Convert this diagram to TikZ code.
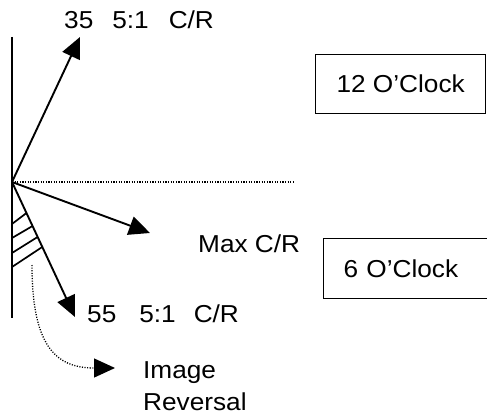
\documentclass[tikz,border=0pt]{standalone}
\usepackage{fontspec}
\setmainfont[FakeStretch=1.07]{Liberation Sans}
\usetikzlibrary{arrows.meta,calc}
\begin{document}
\begin{tikzpicture}[x=1pt,y=-1pt,
  font=\fontsize{24.5}{32}\selectfont,
  lbl/.style={inner sep=0pt,anchor=base west},
  clockbox/.style={draw,line width=1.3pt,inner sep=0pt,minimum height=59pt},
  vec/.style={line width=1.9pt,-{Triangle[length=21pt,width=19pt]}},
  hatch/.style={line width=1.7pt},
  dotline/.style={line width=1.3pt,dash pattern=on 1.1pt off 1.5pt},
]
\useasboundingbox (0,0) rectangle (487,417);
\clip (0,0) rectangle (487,417);
% axis
\coordinate (vtop) at (12,37);
\coordinate (vbot) at (12,318);
\coordinate (O) at (12,182);
\coordinate (hend) at (293,182);
\draw[line width=2pt] (vtop) -- (vbot);
\draw[dotline] (O) -- (hend);
% vectors
\coordinate (t1) at (80,37);
\coordinate (t2) at (150,233);
\coordinate (t3) at (75,317);
\draw[vec] (O) -- (t1);
\draw[vec] (O) -- (t2);
\draw[vec] (O) -- (t3);
% hatching
\coordinate (h1) at (12,224);
\coordinate (h2) at (12,238);
\coordinate (h3) at (12,253);
\coordinate (h4) at (12,267);
\draw[hatch] (h1) -- ($(O)!0.2296!(t3)$);
\draw[hatch] (h2) -- ($(O)!0.326!(t3)$);
\draw[hatch] (h3) -- ($(O)!0.407!(t3)$);
\draw[hatch] (h4) -- ($(O)!0.481!(t3)$);
% labels
\node[lbl] (l35) at (64,29) {35\hspace{19pt}5:1\hspace{20pt}C/R};
\node[lbl] (lmax) at (198,252) {Max C/R};
\node[lbl] (l55) at (87,322) {55\hspace{23pt}5:1\hspace{18pt}C/R};
\node[lbl,align=left] (lrev) at (143,410) {Image\\Reversal};
% boxes
\node[clockbox,minimum width=170pt,anchor=north west] (twelve) at (315,54) {12 O’Clock};
\node[clockbox,minimum height=60pt,text width=185pt,align=left,anchor=north west] (six) at (323,238) {\hspace*{20pt}6 O’Clock};
% image reversal arrow
\coordinate (rs) at (32,265);
\coordinate (rtip) at (115,368);
\draw[dotline,-{Triangle[length=21pt,width=19pt]}] (rs) .. controls (32,345) and (55,368) .. (rtip);
\end{tikzpicture}
\end{document}
